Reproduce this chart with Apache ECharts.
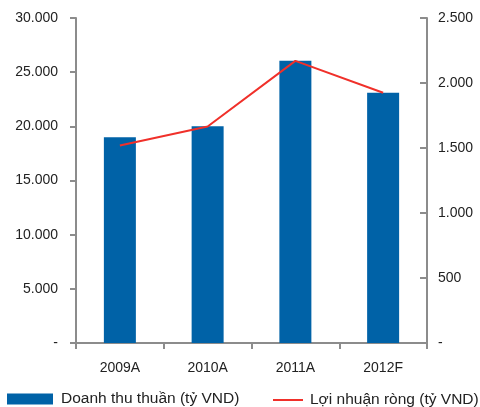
<!DOCTYPE html>
<html><head><meta charset="utf-8">
<script src="https://cdn.jsdelivr.net/npm/echarts@6/dist/echarts.min.js"></script>
<style>html,body{margin:0;padding:0;background:#fff}#c{width:480px;height:407px}</style>
</head><body><div id="c"></div>
<script>
const categories = ['2009A', '2010A', '2011A', '2012F'];
const revenue = [19000, 20000, 26050, 23100];
const netProfit = [1520, 1665, 2170, 1925];
const revenueName = 'Doanh thu thuần (tỷ VND)';
const profitName = 'Lợi nhuận ròng (tỷ VND)';

const FONT = 'Liberation Sans';
const fmt = v => v === 0 ? '-' : String(v).replace(/\B(?=(\d{3})+(?!\d))/g, '.');
const axisLine = { show: true, lineStyle: { color: '#8c8c8c', width: 2 } };

const chart = echarts.init(document.getElementById('c'));
chart.setOption({
  animation: false,
  grid: { left: 76, right: 53, top: 18, bottom: 64 },
  legend: [
    { data: [revenueName], left: 7, top: 391, padding: 0, itemWidth: 46, itemHeight: 11, icon: 'rect', itemGap: 0,
      textStyle: { fontFamily: FONT, fontSize: 15.5, color: '#222', padding: [0, 0, 0, 3] } },
    { data: [profitName], left: 273, top: 392, padding: 0, itemWidth: 30, itemHeight: 2, icon: 'rect', itemGap: 0,
      textStyle: { fontFamily: FONT, fontSize: 15.5, color: '#222', padding: [0, 0, 0, 2] } }
  ],
  xAxis: {
    type: 'category', data: categories,
    axisLine: axisLine,
    axisTick: { show: true, length: 6, lineStyle: { color: '#8c8c8c', width: 2 } },
    axisLabel: { fontFamily: FONT, fontSize: 14, color: '#222', margin: 18 }
  },
  yAxis: [
    { type: 'value', min: 0, max: 30000, interval: 5000, position: 'left',
      axisLine: axisLine, splitLine: { show: false },
      axisTick: { show: true, length: 6, lineStyle: { color: '#8c8c8c', width: 2 } },
      axisLabel: { fontFamily: FONT, fontSize: 14, color: '#222', margin: 18, formatter: fmt } },
    { type: 'value', min: 0, max: 2500, interval: 500, position: 'right',
      axisLine: axisLine, splitLine: { show: false },
      axisTick: { show: true, inside: true, length: 7, lineStyle: { color: '#8c8c8c', width: 2 } },
      axisLabel: { fontFamily: FONT, fontSize: 14, color: '#222', margin: 11, formatter: fmt } }
  ],
  series: [
    { name: revenueName, type: 'bar', data: revenue, barWidth: 32, itemStyle: { color: '#0062a7' } },
    { name: profitName, type: 'line', yAxisIndex: 1, data: netProfit, symbol: 'none',
      lineStyle: { color: '#f0302a', width: 2 }, itemStyle: { color: '#f0302a' } }
  ]
});
</script></body></html>
